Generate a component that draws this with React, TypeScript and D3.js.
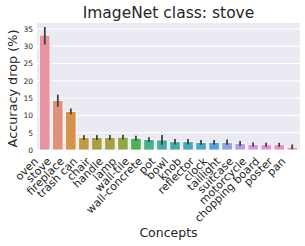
import { useEffect, useRef } from 'react';
import * as d3 from 'd3';

const concepts = ['oven', 'stove', 'fireplace', 'trash can', 'chair', 'handle', 'lamp', 'wall-tile',
  'wall-concrete', 'pot', 'bowl', 'knob', 'reflector', 'clock', 'taillight', 'suitcase',
  'motorcycle', 'chopping board', 'poster', 'pan'];
const drops = [33.2, 14.3, 11.1, 3.6, 3.6, 3.6, 3.7, 3.4, 3.0, 2.9, 2.4, 2.4, 2.2, 2.2, 2.2, 1.9, 1.6, 1.5, 1.5, 0.8];
const errLow = [30.5, 12.5, 10.3, 2.9, 2.9, 2.9, 3.0, 2.7, 2.3, 1.5, 1.6, 1.6, 1.5, 1.5, 1.5, 1.2, 1.0, 0.9, 0.9, 0.2];
const errHigh = [35.5, 16.0, 12.0, 4.3, 4.3, 4.3, 4.4, 4.1, 3.7, 4.3, 3.2, 3.2, 2.9, 2.9, 3.0, 2.6, 2.2, 2.1, 2.1, 1.6];
const palette = ['#e8939f', '#e0917c', '#d5924c', '#bf9a48', '#ae9c45', '#a2a045', '#8ea848', '#4fb153',
  '#49af88', '#48ab9e', '#48aaa8', '#49a8b2', '#4aa7bd', '#55a4d5', '#8fa4e0', '#b69ee3',
  '#d398e0', '#e38fd8', '#e590c6', '#e795b3'];
const yTicks = [0, 5, 10, 15, 20, 25, 30, 35];

const App = () => {
  const svgRef = useRef(null);

  useEffect(() => {
    const W = 305, H = 246;
    const margin = { top: 23, right: 5, bottom: 96, left: 37 };
    const width = W - margin.left - margin.right;
    const height = H - margin.top - margin.bottom;
    const font = 'DejaVu Sans, sans-serif';

    const root = d3.select(svgRef.current);
    root.selectAll('*').remove();
    const svg = root.append('g').attr('transform', `translate(${margin.left},${margin.top})`);

    const x = d3.scaleBand().domain(concepts).range([0, width]).padding(0.2);
    const y = d3.scaleLinear().domain([0, 36.7]).range([height, 0]);

    svg.append('rect').attr('width', width).attr('height', height).attr('fill', '#eaeaf2');

    svg.selectAll('.grid')
      .data(yTicks)
      .enter().append('line')
      .attr('x1', 0).attr('x2', width)
      .attr('y1', d => y(d)).attr('y2', d => y(d))
      .attr('stroke', '#fff').attr('stroke-width', 1);

    const data = concepts.map((c, i) => ({ c, v: drops[i], lo: errLow[i], hi: errHigh[i], col: palette[i] }));

    svg.selectAll('.bar')
      .data(data)
      .enter().append('rect')
      .attr('x', d => x(d.c))
      .attr('y', d => y(d.v))
      .attr('width', x.bandwidth())
      .attr('height', d => y(0) - y(d.v))
      .attr('fill', d => d.col)
      .attr('stroke', '#fff')
      .attr('stroke-width', 0.8);

    svg.selectAll('.err')
      .data(data)
      .enter().append('line')
      .attr('x1', d => x(d.c) + x.bandwidth() / 2)
      .attr('x2', d => x(d.c) + x.bandwidth() / 2)
      .attr('y1', d => y(d.lo))
      .attr('y2', d => y(d.hi))
      .attr('stroke', '#424242')
      .attr('stroke-width', 1.8);

    const yAxis = svg.append('g')
      .call(d3.axisLeft(y).tickValues(yTicks).tickSize(0).tickPadding(4));
    yAxis.select('.domain').remove();
    yAxis.selectAll('text').attr('font-family', font).attr('font-size', 7.5).attr('fill', '#262626');

    // rotated labels: top-right corner of each label sits just under its bar
    const xAxis = svg.append('g')
      .attr('transform', `translate(0,${height})`)
      .call(d3.axisBottom(x).tickSize(0).tickPadding(0));
    xAxis.select('.domain').remove();
    xAxis.selectAll('text')
      .attr('font-family', font)
      .attr('font-size', 11)
      .attr('fill', '#262626')
      .attr('text-anchor', 'end')
      .attr('y', 0)
      .attr('dy', 0)
      .attr('transform', 'translate(-6,12) rotate(-45)');

    root.append('text')
      .attr('x', margin.left + width / 2).attr('y', 18)
      .attr('text-anchor', 'middle')
      .attr('font-family', font).attr('font-size', 15.5).attr('fill', '#262626')
      .text('ImageNet class: stove');

    root.append('text')
      .attr('transform', `translate(17,${margin.top + height / 2 + 2}) rotate(-90)`)
      .attr('text-anchor', 'middle')
      .attr('font-family', font).attr('font-size', 12.8).attr('fill', '#262626')
      .text('Accuracy drop (%)');

    root.append('text')
      .attr('x', margin.left + width / 2).attr('y', 237)
      .attr('text-anchor', 'middle')
      .attr('font-family', font).attr('font-size', 12.5).attr('fill', '#262626')
      .text('Concepts');
  }, []);

  return (
    <svg ref={svgRef} width={305} height={246}
      style={{ position: 'absolute', left: 0, top: 0, background: '#fff' }} />
  );
};

export default App;
